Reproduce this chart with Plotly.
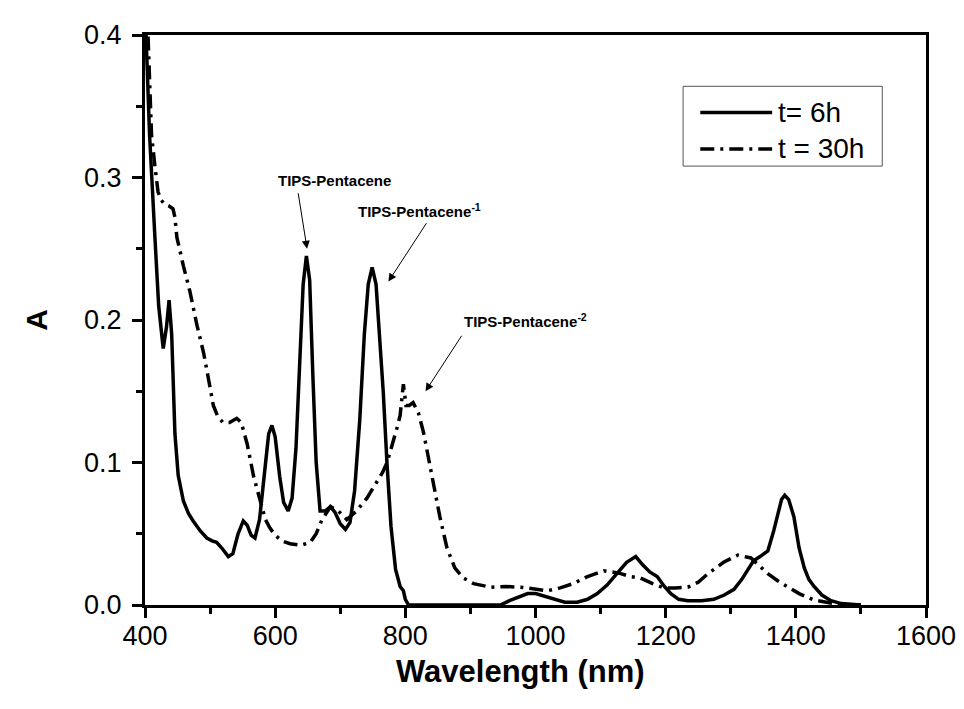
import plotly.graph_objects as go

# t = 6h (solid)
wl_6h = [400, 403, 407, 415, 421, 428, 433, 437, 441, 446, 451, 459, 467, 474, 485, 495, 503, 510,
         518, 528, 535, 543, 551, 557, 563, 569, 576, 583, 590, 595, 600, 607, 613, 620, 626, 632,
         638, 643, 648, 653, 658, 663, 669, 677, 685, 692, 700, 708, 715, 722, 730, 737, 743, 749,
         755, 761, 766, 772, 778, 785, 792, 797, 800, 805, 850, 900, 946, 960, 975, 988, 1000, 1015,
         1030, 1045, 1064, 1080, 1095, 1110, 1125, 1140, 1154, 1165, 1176, 1187, 1198, 1208, 1220,
         1234, 1255, 1274, 1290, 1305, 1317, 1326, 1335, 1345, 1357, 1366, 1372, 1378, 1383, 1389,
         1397, 1405, 1413, 1420, 1428, 1440, 1454, 1470, 1500]
a_6h = [0.42, 0.38, 0.33, 0.26, 0.21, 0.18, 0.195, 0.214, 0.19, 0.12, 0.091, 0.073, 0.064, 0.059,
        0.052, 0.047, 0.045, 0.044, 0.040, 0.034, 0.036, 0.050, 0.059, 0.056, 0.049, 0.047, 0.060,
        0.090, 0.120, 0.126, 0.118, 0.090, 0.072, 0.066, 0.075, 0.110, 0.170, 0.225, 0.245, 0.228,
        0.160, 0.100, 0.066, 0.066, 0.069, 0.065, 0.057, 0.053, 0.058, 0.080, 0.130, 0.190, 0.225,
        0.237, 0.225, 0.185, 0.150, 0.098, 0.055, 0.025, 0.013, 0.010, 0.004, 0.0, 0.0, 0.0, 0.0,
        0.003, 0.006, 0.008, 0.008, 0.006, 0.004, 0.002, 0.002, 0.004, 0.008, 0.014, 0.022, 0.030,
        0.034, 0.028, 0.023, 0.020, 0.013, 0.008, 0.004, 0.003, 0.003, 0.004, 0.007, 0.011, 0.018,
        0.024, 0.031, 0.034, 0.038, 0.052, 0.064, 0.074, 0.077, 0.074, 0.062, 0.040, 0.026, 0.018,
        0.013, 0.007, 0.003, 0.001, 0.0]

# t = 30h (dash-dot)
wl_30h = [400, 405, 410, 415, 420, 425, 431, 437, 443, 446, 449, 459, 469, 480, 490, 497, 505, 512,
          520, 530, 541, 548, 557, 567, 577, 585, 592, 600, 610, 623, 640, 654, 663, 672, 685, 697,
          710, 725, 741, 755, 765, 772, 780, 787, 792, 797, 801, 806, 812, 820, 828, 835, 843, 853,
          864, 876, 889, 905, 931, 955, 977, 1000, 1018, 1038, 1058, 1080, 1105, 1120, 1131, 1145,
          1161, 1180, 1197, 1215, 1234, 1250, 1265, 1289, 1311, 1331, 1345, 1357, 1372, 1388, 1405,
          1428, 1458, 1480, 1500]
a_30h = [0.46, 0.40, 0.33, 0.309, 0.29, 0.284, 0.281, 0.280, 0.278, 0.272, 0.258, 0.238, 0.220,
         0.196, 0.177, 0.160, 0.140, 0.132, 0.128, 0.128, 0.131, 0.128, 0.113, 0.090, 0.073, 0.060,
         0.054, 0.049, 0.045, 0.043, 0.042, 0.044, 0.050, 0.060, 0.069, 0.066, 0.060, 0.066, 0.075,
         0.085, 0.093, 0.100, 0.112, 0.124, 0.133, 0.155, 0.140, 0.140, 0.142, 0.135, 0.121, 0.104,
         0.087, 0.062, 0.040, 0.026, 0.019, 0.015, 0.0125, 0.013, 0.0125, 0.011, 0.010, 0.012, 0.015,
         0.020, 0.024, 0.023, 0.022, 0.020, 0.019, 0.015, 0.012, 0.012, 0.0125, 0.016, 0.022, 0.030,
         0.035, 0.033, 0.027, 0.022, 0.017, 0.0125, 0.008, 0.0035, 0.001, 0.0, 0.0]

series_names = ["t= 6h", "t = 30h"]

# peak labels: (text, text x, text y, arrow tail x, tail y, head x, head y)
labels = [
    ("TIPS-Pentacene", 691, 0.298, 635, 0.290, 649, 0.250),
    ("TIPS-Pentacene<sup>-1</sup>", 821, 0.277, 834, 0.269, 774, 0.227),
    ("TIPS-Pentacene<sup>-2</sup>", 985, 0.200, 888, 0.190, 831, 0.150),
]

FONT = "Liberation Sans, Arial, sans-serif"
DASHDOT = "14px,6px,3px,6px"
LW = 3.5

fig = go.Figure()
fig.add_trace(go.Scatter(x=wl_6h, y=a_6h, mode="lines", name=series_names[0],
                         line=dict(color="black", width=LW), showlegend=False))
fig.add_trace(go.Scatter(x=wl_30h, y=a_30h, mode="lines", name=series_names[1],
                         line=dict(color="black", width=LW, dash=DASHDOT), showlegend=False))

annotations = []
for text, tx, ty, ax, ay, hx, hy in labels:
    annotations.append(dict(x=tx, y=ty, xref="x", yref="y", text="<b>" + text + "</b>",
                            showarrow=False, xanchor="center", yanchor="middle",
                            font=dict(family=FONT, size=15, color="black")))
    annotations.append(dict(x=hx, y=hy, ax=ax, ay=ay, xref="x", yref="y", axref="x", ayref="y",
                            text="", showarrow=True, arrowhead=2, arrowsize=1.6, arrowwidth=1,
                            arrowcolor="black"))

# manual legend
shapes = [
    dict(type="rect", xref="paper", yref="paper", x0=0.689, x1=0.944, y0=0.770, y1=0.910,
         line=dict(color="#555555", width=1), fillcolor="white"),
    dict(type="line", xref="paper", yref="paper", x0=0.711, x1=0.803, y0=0.864, y1=0.864,
         line=dict(color="black", width=LW)),
    dict(type="line", xref="paper", yref="paper", x0=0.711, x1=0.803, y0=0.800, y1=0.800,
         line=dict(color="black", width=LW, dash=DASHDOT)),
]
for name, yy in zip(series_names, [0.864, 0.800]):
    annotations.append(dict(x=0.808, y=yy, xref="paper", yref="paper", text=name,
                            showarrow=False, xanchor="left", yanchor="middle",
                            font=dict(family=FONT, size=28, color="black")))

# x-axis title
annotations.append(dict(x=0.481, y=-0.1165, xref="paper", yref="paper",
                        text="<b>Wavelength (nm)</b>", showarrow=False,
                        xanchor="center", yanchor="middle",
                        font=dict(family=FONT, size=31, color="black")))

fig.update_layout(
    width=964, height=709,
    margin=dict(l=137, r=46, t=21, b=112),
    paper_bgcolor="white", plot_bgcolor="white",
    font=dict(family=FONT, color="black"),
    annotations=annotations, shapes=shapes,
    showlegend=False,
)
axis_common = dict(showline=True, linecolor="black", linewidth=3, mirror=True,
                   ticks="outside", ticklen=10, tickwidth=3, tickcolor="black",
                   showgrid=False, zeroline=False,
                   tickfont=dict(family=FONT, size=27, color="black"))
fig.update_xaxes(range=[400, 1600], dtick=200, tick0=400, ticklabelstandoff=-5,
                 minor=dict(dtick=100, ticks="outside", ticklen=6, tickwidth=3, tickcolor="black"),
                 **axis_common)
fig.update_yaxes(range=[0, 0.4], dtick=0.1, tick0=0, tickformat=".1f", ticklabelstandoff=5,
                 minor=dict(dtick=0.05, ticks="outside", ticklen=6, tickwidth=3, tickcolor="black"),
                 title=dict(text="<b>A</b>", font=dict(family=FONT, size=30), standoff=28),
                 **axis_common)

fig.write_html("out.html")
